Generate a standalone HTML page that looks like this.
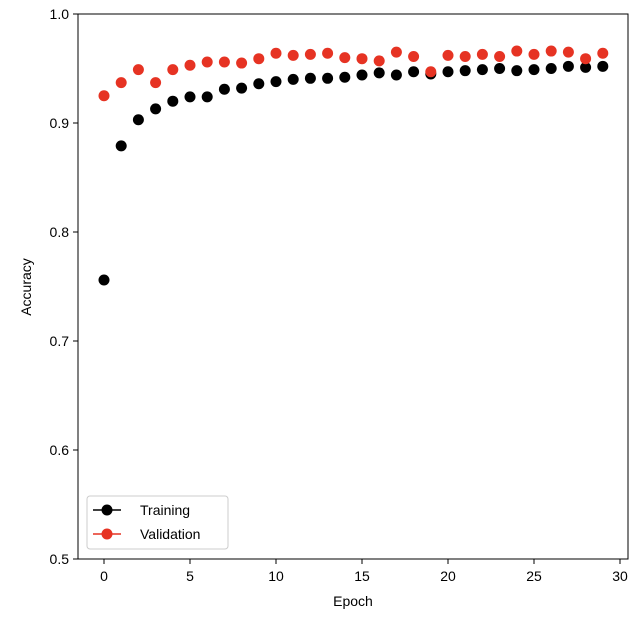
<!DOCTYPE html>
<html><head><meta charset="utf-8"><style>
html,body{margin:0;padding:0;background:#fff;}
svg{display:block;font-family:"Liberation Sans","DejaVu Sans",sans-serif;}
</style></head><body>
<svg id="chart" width="640" height="624" viewBox="0 0 640 624">
<rect x="78" y="14" width="550" height="545" fill="#fff" stroke="#000" stroke-width="1"/>
<g id="ticks"></g>
<g id="marks"></g>
<text x="353" y="606" font-size="14" text-anchor="middle">Epoch</text>
<text x="31" y="287" font-size="14" text-anchor="middle" transform="rotate(-90 31 287)">Accuracy</text>
<g>
<rect x="87" y="496" width="141" height="53" rx="3" fill="#fff" stroke="#ccc"/>
<g>
<line x1="93" y1="510" x2="121" y2="510" stroke="#000" stroke-width="1.5"/>
<circle cx="107" cy="510" r="5.5" fill="#000"/>
<text x="140" y="515" font-size="14">Training</text></g>
<g>
<line x1="93" y1="534" x2="121" y2="534" stroke="#e63323" stroke-width="1.5"/>
<circle cx="107" cy="534" r="5.5" fill="#e63323"/>
<text x="140" y="539" font-size="14">Validation</text></g>
</g>
</svg>
<script>
const epochs=[0,1,2,3,4,5,6,7,8,9,10,11,12,13,14,15,16,17,18,19,20,21,22,23,24,25,26,27,28,29];
const training=[0.756,0.879,0.903,0.913,0.920,0.924,0.924,0.931,0.932,0.936,0.938,0.940,0.941,0.941,0.942,0.944,0.946,0.944,0.947,0.945,0.947,0.948,0.949,0.950,0.948,0.949,0.950,0.952,0.951,0.952];
const validation=[0.925,0.937,0.949,0.937,0.949,0.953,0.956,0.956,0.955,0.959,0.964,0.962,0.963,0.964,0.960,0.959,0.957,0.965,0.961,0.947,0.962,0.961,0.963,0.961,0.966,0.963,0.966,0.965,0.959,0.964];
const xTicks=[0,5,10,15,20,25,30];
const yTicks=[0.5,0.6,0.7,0.8,0.9,1.0];
const yTickLabels=["0.5","0.6","0.7","0.8","0.9","1.0"];
const NS="http://www.w3.org/2000/svg";
function xs(v){return 104+v*17.2;}
function ys(v){return 559-(v-0.5)*1090;}
const tg=document.getElementById('ticks'),mg=document.getElementById('marks');
function mk(tag,attrs,parent){const e=document.createElementNS(NS,tag);for(const k in attrs)e.setAttribute(k,attrs[k]);parent.appendChild(e);return e;}
xTicks.forEach(t=>{
 const l=mk('line',{x1:xs(t),x2:xs(t),y1:559,y2:564,stroke:'#000'},tg);
 
 
 const tx=mk('text',{x:xs(t),y:581,'font-size':14,'text-anchor':'middle'},tg);tx.textContent=t;
 
 
});
yTicks.forEach((t,i)=>{
 const l=mk('line',{x1:73,x2:78,y1:ys(t),y2:ys(t),stroke:'#000'},tg);
 
 
 const tx=mk('text',{x:69,y:ys(t)+5,'font-size':14,'text-anchor':'end'},tg);tx.textContent=yTickLabels[i];
 
 
});
epochs.forEach((e,i)=>{
 const c=mk('circle',{cx:xs(e),cy:ys(training[i]),r:5.5,fill:'#000'},mg);
 
 
});
epochs.forEach((e,i)=>{
 const c=mk('circle',{cx:xs(e),cy:ys(validation[i]),r:5.5,fill:'#e63323'},mg);
 
 
});
</script>
</body></html>
